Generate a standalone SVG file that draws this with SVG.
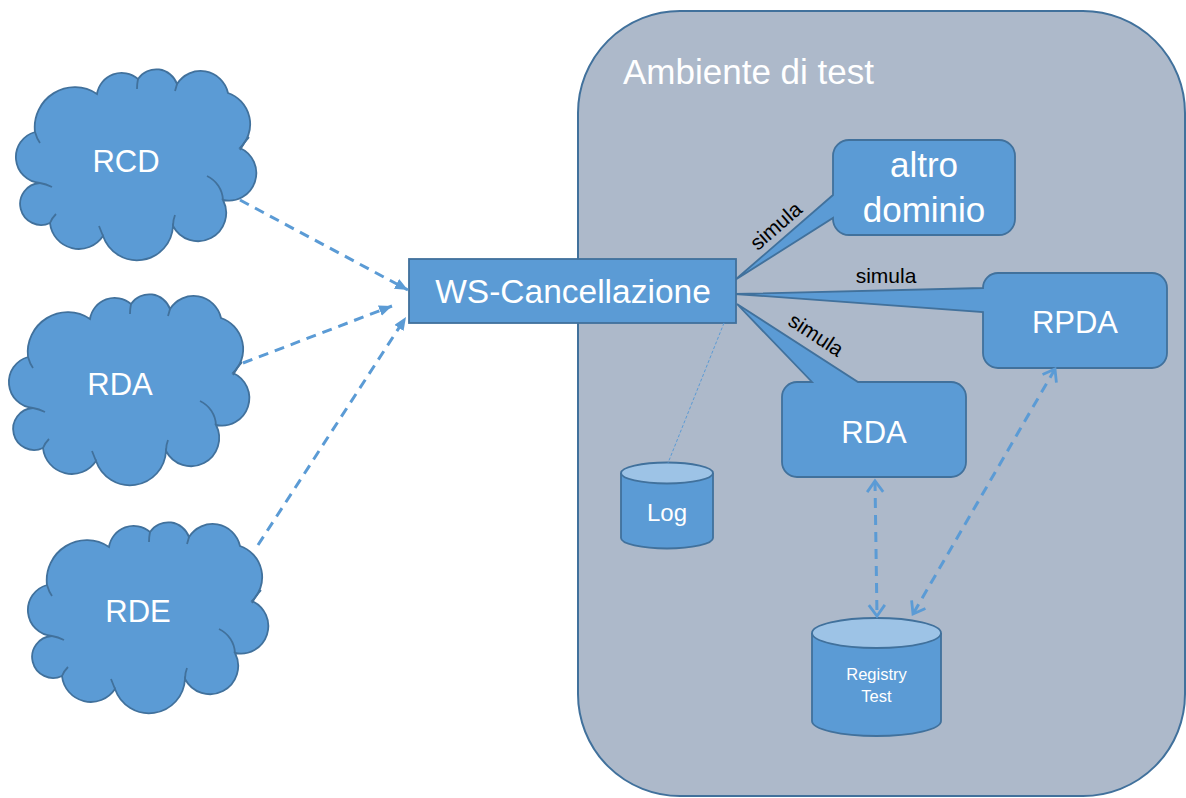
<svg xmlns="http://www.w3.org/2000/svg" xmlns:xlink="http://www.w3.org/1999/xlink" width="1186" height="798" viewBox="0 0 1186 798">
  <style>
    .node { fill: #5b9bd5; stroke: #41719c; stroke-width: 1.8; }
    .cap { fill: #9dc3e6; stroke: #41719c; stroke-width: 1.8; }
    .lbl { font-family: "Liberation Sans", Arial, sans-serif; fill: #ffffff; text-anchor: middle; }
    .sim { font-family: "Liberation Sans", Arial, sans-serif; fill: #000000; font-size: 21px; text-anchor: middle; }
    .dash { fill: none; stroke: #5b9bd5; stroke-width: 3; stroke-dasharray: 10 7; }
  </style>
  <defs>
    <path id="cloudShape" d="M 35,132 A 40,40 0 0 1 97,94 A 25,25 0 0 1 138,79 A 22,22 0 0 1 177,84 A 28,28 0 0 1 228,93 A 33,33 0 0 1 240,148 A 27.5,27.5 0 0 1 223,200 A 28,28 0 0 1 173,226 A 36,36 0 0 1 103,236 A 29,29 0 0 1 50,223 A 21,21 0 1 1 40,183 A 26,26 0 0 1 35,132 Z"/>
    <path id="cloudHooks" fill="none" d="M 207,176 A 28,28 0 0 1 223,200 M 240,150 Q 244,142 249,137 M 173,226 Q 173,220 175,215 M 103,236 Q 101,231 99,226 M 50,223 Q 52,218 56,214 M 40,183 Q 46,184 52,187 M 35,132 Q 37,139 40,143 M 138,79 Q 137,84 137,89 M 177,84 Q 176,88 175,91"/>
    <marker id="arrowFill" markerUnits="userSpaceOnUse" markerWidth="14" markerHeight="12" refX="13" refY="5.5" orient="auto">
      <path d="M0,0 L13,5.5 L0,11 Z" fill="#5b9bd5"/>
    </marker>
    <marker id="arrowOpen" markerUnits="userSpaceOnUse" markerWidth="16" markerHeight="20" refX="12" refY="9" orient="auto-start-reverse">
      <path d="M1,1 L12,9 L1,17" fill="none" stroke="#5b9bd5" stroke-width="2.8"/>
    </marker>
  </defs>

  <rect width="1186" height="798" fill="#ffffff"/>

  <g id="ambiente">
    <rect x="578" y="11" width="607" height="785" rx="102" ry="102" fill="#adb9ca" stroke="#41719c" stroke-width="2"/>
    <text class="lbl" x="623" y="84" font-size="35" style="text-anchor:start">Ambiente di test</text>
  </g>

  <g id="rcd">
    <use xlink:href="#cloudShape" class="node"/>
    <use xlink:href="#cloudHooks" stroke="#41719c" stroke-width="1.8"/>
    <text class="lbl" x="126" y="172" font-size="31">RCD</text>
  </g>
  <g id="rda-cloud">
    <use xlink:href="#cloudShape" class="node" transform="translate(-7,225)"/>
    <use xlink:href="#cloudHooks" stroke="#41719c" stroke-width="1.8" transform="translate(-7,225)"/>
    <text class="lbl" x="120" y="395" font-size="31">RDA</text>
  </g>
  <g id="rde">
    <use xlink:href="#cloudShape" class="node" transform="translate(12,453)"/>
    <use xlink:href="#cloudHooks" stroke="#41719c" stroke-width="1.8" transform="translate(12,453)"/>
    <text class="lbl" x="138" y="622" font-size="31">RDE</text>
  </g>

  <g id="altro-dominio">
    <path class="node" d="M 849,140 H 999 A 16,16 0 0 1 1015,156 V 219 A 16,16 0 0 1 999,235 H 849 A 16,16 0 0 1 833,219 V 218 L 735,280 L 833,195 V 156 A 16,16 0 0 1 849,140 Z"/>
    <text class="lbl" x="924" y="177" font-size="35">altro</text>
    <text class="lbl" x="924" y="222" font-size="35">dominio</text>
  </g>

  <g id="rpda">
    <path class="node" d="M 998,273 H 1152 A 15,15 0 0 1 1167,288 V 353 A 15,15 0 0 1 1152,368 H 998 A 15,15 0 0 1 983,353 V 312 L 735,294 L 983,288 A 15,15 0 0 1 998,273 Z"/>
    <text class="lbl" x="1075" y="333" font-size="31">RPDA</text>
  </g>

  <g id="rda-sim">
    <path class="node" d="M 797,382 H 812 L 737,304 L 858,382 H 951 A 15,15 0 0 1 966,397 V 462 A 15,15 0 0 1 951,477 H 797 A 15,15 0 0 1 782,462 V 397 A 15,15 0 0 1 797,382 Z"/>
    <text class="lbl" x="874" y="443" font-size="31">RDA</text>
  </g>

  <g id="ws-cancellazione">
    <rect class="node" x="409" y="259" width="327" height="64"/>
    <text class="lbl" x="573" y="303" font-size="33.5">WS-Cancellazione</text>
  </g>

  <g id="log">
    <path class="node" d="M 621,473 V 538 A 46,10.5 0 0 0 713,538 V 473"/>
    <ellipse class="cap" cx="667" cy="473" rx="46" ry="10.5"/>
    <text class="lbl" x="667" y="521" font-size="24">Log</text>
  </g>

  <g id="registry-test">
    <path class="node" d="M 812,633 V 721 A 64.5,15 0 0 0 941,721 V 633"/>
    <ellipse class="cap" cx="876.5" cy="633" rx="64.5" ry="15"/>
    <text class="lbl" x="876.5" y="680" font-size="16.5">Registry</text>
    <text class="lbl" x="876.5" y="702" font-size="16.5">Test</text>
  </g>

  <g id="connectors">
    <line class="dash" x1="240" y1="200" x2="408" y2="290" marker-end="url(#arrowFill)"/>
    <line class="dash" x1="243" y1="363" x2="392" y2="306" marker-end="url(#arrowFill)"/>
    <line class="dash" x1="258" y1="545" x2="406" y2="317" marker-end="url(#arrowFill)"/>
    <line x1="724" y1="323" x2="668" y2="463" stroke="#5b9bd5" stroke-width="1" stroke-dasharray="3 2"/>
    <line class="dash" x1="875" y1="481" x2="877" y2="616" marker-start="url(#arrowOpen)" marker-end="url(#arrowOpen)"/>
    <line class="dash" x1="1055" y1="369" x2="913" y2="614" marker-start="url(#arrowOpen)" marker-end="url(#arrowOpen)"/>
    <text class="sim" x="776" y="233" transform="rotate(-41 776 226)">simula</text>
    <text class="sim" x="886" y="283">simula</text>
    <text class="sim" x="816" y="342" transform="rotate(33 816 335)">simula</text>
  </g>
</svg>
